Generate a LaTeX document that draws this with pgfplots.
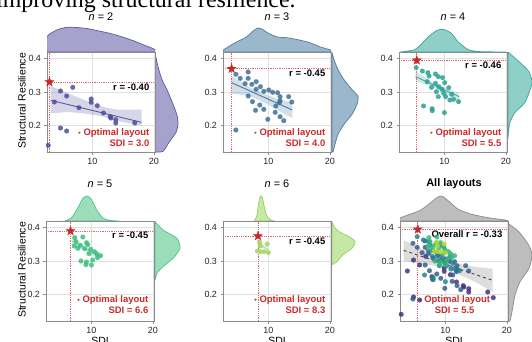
\documentclass[border=0pt]{standalone}
\usepackage{pgfplots}
\pgfplotsset{compat=1.18}
\usepackage{pgfplotstable}
\usepackage{fontspec}
\setmainfont{Liberation Sans}
\newfontfamily\serif{Liberation Serif}

\definecolor{d2}{HTML}{4F4E96}\definecolor{f2}{HTML}{8C88C0}\definecolor{e2}{HTML}{5C589C}
\definecolor{d3}{HTML}{3D7098}\definecolor{f3}{HTML}{7FA3BE}\definecolor{e3}{HTML}{4E7A9C}
\definecolor{d4}{HTML}{2CA093}\definecolor{f4}{HTML}{6EC1B8}\definecolor{e4}{HTML}{3FA59A}
\definecolor{d5}{HTML}{3DBE7F}\definecolor{f5}{HTML}{7FD5A5}\definecolor{e5}{HTML}{4CC389}
\definecolor{d6}{HTML}{9ED66A}\definecolor{f6}{HTML}{B4E38A}\definecolor{e6}{HTML}{9ACD5E}
\definecolor{fg}{HTML}{ABABAB}\definecolor{eg}{HTML}{8A8A8A}
\definecolor{v2}{HTML}{46317E}\definecolor{v3}{HTML}{35608D}\definecolor{v4}{HTML}{26828E}
\definecolor{v5}{HTML}{35B779}\definecolor{v6}{HTML}{B5DB34}
\definecolor{optred}{HTML}{CC2A2A}\definecolor{starred}{HTML}{C62828}\definecolor{dotred}{HTML}{E06666}

\pgfdeclareplotmark{fstar}{%
  \pgfpathmoveto{\pgfpointpolar{90}{\pgfplotmarksize}}%
  \pgfpathlineto{\pgfpointpolar{126}{0.4\pgfplotmarksize}}%
  \pgfpathlineto{\pgfpointpolar{162}{\pgfplotmarksize}}%
  \pgfpathlineto{\pgfpointpolar{198}{0.4\pgfplotmarksize}}%
  \pgfpathlineto{\pgfpointpolar{234}{\pgfplotmarksize}}%
  \pgfpathlineto{\pgfpointpolar{270}{0.4\pgfplotmarksize}}%
  \pgfpathlineto{\pgfpointpolar{306}{\pgfplotmarksize}}%
  \pgfpathlineto{\pgfpointpolar{342}{0.4\pgfplotmarksize}}%
  \pgfpathlineto{\pgfpointpolar{18}{\pgfplotmarksize}}%
  \pgfpathlineto{\pgfpointpolar{54}{0.4\pgfplotmarksize}}%
  \pgfpathclose
  \pgfusepathqfillstroke
}

\pgfplotstableread{
x y
4.8 0.303
6.8 0.314
5.8 0.288
3.8 0.270
7.8 0.253
9.8 0.279
9.8 0.269
10.8 0.259
11.8 0.237
12.9 0.226
13.0 0.222
13.8 0.217
13.8 0.207
16.9 0.207
4.8 0.192
5.8 0.183
2.8 0.140
}\dtwo

\pgfplotstableread{
x y
4.7 0.353
5.4 0.341
6.7 0.360
6.7 0.341
6.2 0.325
7.3 0.323
8.0 0.331
8.0 0.308
8.7 0.316
9.25 0.302
10.05 0.306
10.7 0.299
11.5 0.298
11.9 0.286
11.9 0.274
11.8 0.268
13.3 0.286
13.8 0.270
6.7 0.288
7.4 0.271
8.6 0.261
9.25 0.248
7.9 0.245
11.2 0.258
11.1 0.239
11.9 0.226
9.9 0.218
12.5 0.214
4.7 0.186
}\dthree

\pgfplotstableread{
x y
5.4 0.373
6.4 0.363
7.3 0.358
7.5 0.348
8.55 0.354
9.0 0.346
9.7 0.343
10.05 0.328
7.2 0.331
8.55 0.326
7.9 0.314
9.1 0.316
8.7 0.301
9.6 0.308
10.7 0.313
9.9 0.296
9.0 0.286
10.2 0.286
11.2 0.293
10.9 0.276
12.3 0.271
11.5 0.278
6.6 0.258
8.0 0.250
8.0 0.244
10.0 0.238
}\dfour

\pgfplotstableread{
x y
8.6 0.372
7.5 0.358
9.2 0.355
8.2 0.347
9.4 0.349
7.8 0.338
8.9 0.337
9.9 0.335
10.5 0.328
9.6 0.322
10.9 0.321
11.5 0.316
11.0 0.310
8.3 0.300
9.2 0.297
10.2 0.303
10.0 0.288
9.1 0.289
7.3 0.370
7.2 0.345
}\dfive

\pgfplotstableread{
x y
8.6 0.356
8.7 0.345
9.8 0.351
8.2 0.330
8.7 0.328
9.3 0.328
10.0 0.325
}\dsix

\pgfplotsset{
  mainax/.style={
    scale only axis, width=108bp, height=100bp, anchor=north west,
    xmin=2.6, xmax=20.2, ymin=0.12, ymax=0.42, clip=false,
    xtick={10,20}, xticklabels={10,20},
    ytick={0.2,0.3,0.4}, yticklabels={0.2,0.3,0.4},
    grid=major, major grid style={draw=black!12, line width=0.5pt},
    axis line style={draw=black!45, line width=0.6pt},
    tick style={draw=black!45, line width=0.5pt}, tick align=outside,
    major tick length=2.5bp, xtick pos=bottom, ytick pos=left,
    ticklabel style={font=\fontsize{9}{10}\selectfont, text=black!85},
  },
  topax/.style={scale only axis, width=108bp, height=26bp, anchor=south west,
    xmin=2.6, xmax=20.2, ymin=0, ymax=26, hide axis},
  rightax/.style={scale only axis, width=28bp, height=100bp, anchor=north west,
    xmin=0, xmax=28, ymin=0.12, ymax=0.42, hide axis},
  pts/.style={only marks, mark=*, mark size=2.4bp, color=#1, mark options={solid, fill=#1, draw=#1, line width=0.1pt, fill opacity=0.85, draw opacity=0.85}},
  dens/.style n args={2}{fill=#1, fill opacity=0.78, draw=#2, line width=0.7pt, smooth, tension=0.4},
  optline/.style={dotred, densely dotted, line width=0.8pt},
  startmark/.style={only marks, mark=fstar, mark size=4.8bp, color=starred, mark options={solid, fill=starred, draw=starred, line width=0.3pt}},
}
\tikzset{
  rtext/.style={anchor=north east, inner sep=0pt, font=\bfseries\fontsize{9.5}{10}\selectfont},
  otext/.style={anchor=south east, inner sep=0pt, align=right, text=optred, font=\bfseries\fontsize{9.5}{11}\selectfont},
}
\newcommand{\bul}{{\fontsize{7}{7}\selectfont\textbullet}}

\begin{document}
\begin{tikzpicture}
\useasboundingbox (0,0) rectangle (532bp,-342bp);

% cut-off heading
\node[anchor=base west, inner sep=0pt, font=\serif\fontsize{24}{28}\selectfont] at (-4bp,-7.5bp) {improving structural resilience.};

% titles
\node[font=\fontsize{11}{13}\selectfont] at (101bp,-16.5bp) {{\itshape n} = 2};
\node[font=\fontsize{11}{13}\selectfont] at (277bp,-16.5bp) {{\itshape n} = 3};
\node[font=\fontsize{11}{13}\selectfont] at (453bp,-16.5bp) {{\itshape n} = 4};
\node[font=\fontsize{11}{13}\selectfont] at (100bp,-184bp) {{\itshape n} = 5};
\node[font=\fontsize{11}{13}\selectfont] at (277bp,-184bp) {{\itshape n} = 6};
\node[font=\bfseries\fontsize{11}{13}\selectfont] at (454bp,-184bp) {All layouts};
\node[rotate=90, font=\fontsize{10.5}{12}\selectfont] at (22bp,-101bp) {Structural Resilience};
\node[rotate=90, font=\fontsize{10.5}{12}\selectfont] at (22bp,-270bp) {Structural Resilience};
\node[anchor=north, inner sep=0pt, font=\fontsize{10.5}{12}\selectfont] at (100bp,-336.5bp) {SDI};
\node[anchor=north, inner sep=0pt, font=\fontsize{10.5}{12}\selectfont] at (277bp,-336.5bp) {SDI};
\node[anchor=north, inner sep=0pt, font=\fontsize{10.5}{12}\selectfont] at (454bp,-336.5bp) {SDI};

% ================= Panel 1 (n=2)
\begin{axis}[topax, at={(47bp,-52bp)}]
\addplot[dens={f2}{e2}] coordinates {(2.6,0) (2.6,15.3) (4.2,22) (5.8,24.7) (7.4,24.5) (9.1,23.5) (10.7,21.5) (12.8,18.7) (14.9,15) (16.8,11) (18.4,7) (20.2,2.5) (20.2,0)} -- cycle;
\end{axis}
\begin{axis}[rightax, at={(155bp,-52bp)}]
\addplot[dens={f2}{e2}] coordinates {(0,0.418) (3,0.376) (7,0.337) (12,0.307) (16,0.278) (20,0.248) (22.5,0.224) (23,0.203) (21,0.179) (14,0.149) (8,0.122) (0,0.12)} -- cycle;
\end{axis}
\begin{axis}[mainax, at={(47bp,-52bp)}]
\addplot[fill=f2, fill opacity=0.35, draw=none] coordinates {(3.2,0.318) (6,0.296) (9,0.274) (12,0.254) (14,0.247) (18,0.247) (18,0.2) (14,0.213) (12,0.225) (9,0.235) (6,0.24) (3.2,0.236)} -- cycle;
\addplot[e2, line width=0.9pt] coordinates {(3.2,0.275) (18,0.209)};
\addplot[pts=d2] table {\dtwo};
\addplot[optline] coordinates {(2.6,0.33) (20.2,0.33)};
\addplot[optline] coordinates {(3.0,0.12) (3.0,0.42)};
\addplot[startmark] coordinates {(3.0,0.33)};
\node[rtext] at (axis cs:19.3,0.326) {r = -0.40};
\node[otext] at (axis cs:19.3,0.137) {\bul\ Optimal layout\\SDI = 3.0};
\end{axis}

% ================= Panel 2 (n=3)
\begin{axis}[topax, at={(223bp,-52bp)}]
\addplot[dens={f3}{e3}] coordinates {(2.6,0) (2.65,2) (4.5,9) (6.4,15) (7.5,21) (8.3,24) (9.1,22.5) (9.9,19) (11.5,15) (13.4,14) (16.4,10) (18.5,5) (20.1,2) (20.2,0)} -- cycle;
\end{axis}
\begin{axis}[rightax, at={(332bp,-52bp)}]
\addplot[dens={f3}{e3}] coordinates {(0,0.418) (2,0.397) (6,0.367) (12,0.337) (20,0.307) (26,0.287) (25,0.263) (20,0.233) (12,0.203) (6,0.173) (3,0.143) (1,0.12) (0,0.12)} -- cycle;
\end{axis}
\begin{axis}[mainax, at={(223bp,-52bp)}]
\addplot[fill=f3, fill opacity=0.35, draw=none] coordinates {(4,0.348) (7,0.314) (10,0.29) (12,0.277) (13.9,0.268) (13.9,0.222) (12,0.24) (10,0.262) (7,0.288) (4,0.295)} -- cycle;
\addplot[e3, line width=0.9pt] coordinates {(4.0,0.328) (13.9,0.246)};
\addplot[pts=d3] table {\dthree};
\addplot[optline] coordinates {(2.6,0.37) (20.2,0.37)};
\addplot[optline] coordinates {(4.0,0.12) (4.0,0.42)};
\addplot[startmark] coordinates {(4.0,0.37)};
\node[rtext] at (axis cs:19.3,0.366) {r = -0.45};
\node[otext] at (axis cs:19.3,0.137) {\bul\ Optimal layout\\SDI = 4.0};
\end{axis}

% ================= Panel 3 (n=4)
\begin{axis}[topax, at={(399bp,-52bp)}]
\addplot[dens={f4}{e4}] coordinates {(2.8,0) (5.0,2) (5.8,5.3) (7.4,15.3) (8.7,21.3) (9.8,22.7) (11.15,18.7) (12.2,10.3) (13.8,2.7) (15.5,0.5) (20,0)} -- cycle;
\end{axis}
\begin{axis}[rightax, at={(508bp,-52bp)}]
\addplot[dens={f4}{e4}] coordinates {(0,0.42) (10.7,0.392) (20.7,0.362) (24,0.327) (17,0.269) (7,0.239) (2,0.209) (0.5,0.18) (0,0.16)} -- cycle;
\end{axis}
\begin{axis}[mainax, at={(399bp,-52bp)}]
\addplot[fill=f4, fill opacity=0.35, draw=none] coordinates {(5.3,0.362) (8,0.33) (10,0.312) (12.4,0.298) (12.4,0.272) (10,0.298) (8,0.316) (5.3,0.332)} -- cycle;
\addplot[e4, line width=0.9pt] coordinates {(5.3,0.346) (12.4,0.286)};
\addplot[pts=d4] table {\dfour};
\addplot[optline] coordinates {(2.6,0.395) (20.2,0.395)};
\addplot[optline] coordinates {(5.5,0.12) (5.5,0.42)};
\addplot[startmark] coordinates {(5.5,0.395)};
\node[rtext] at (axis cs:19.3,0.391) {r = -0.46};
\node[otext] at (axis cs:19.3,0.137) {\bul\ Optimal layout\\SDI = 5.5};
\end{axis}

% ================= Panel 4 (n=5)
\begin{axis}[topax, at={(46bp,-221bp)}]
\addplot[dens={f5}{e5}] coordinates {(5.66,0) (6.74,3.3) (7.8,13.3) (8.6,22.5) (9.3,25) (10.0,21.7) (10.8,11.7) (11.8,3.3) (12.9,0.7) (14.5,0)} -- cycle;
\end{axis}
\begin{axis}[rightax, at={(155bp,-221bp)}]
\addplot[dens={f5}{e5}] coordinates {(0,0.418) (8,0.393) (22,0.368) (25,0.338) (18,0.308) (8,0.283) (2,0.263) (0,0.241)} -- cycle;
\end{axis}
\begin{axis}[mainax, at={(46bp,-221bp)}]
\addplot[fill=f5, fill opacity=0.35, draw=none] coordinates {(6.8,0.375) (9,0.343) (11.2,0.326) (11.2,0.302) (9,0.33) (6.8,0.348)} -- cycle;
\addplot[e5, line width=0.9pt, opacity=0.6] coordinates {(6.8,0.36) (11.2,0.315)};
\addplot[pts=d5] table {\dfive};
\addplot[optline] coordinates {(2.6,0.39) (20.2,0.39)};
\addplot[optline] coordinates {(6.6,0.12) (6.6,0.42)};
\addplot[startmark] coordinates {(6.6,0.39)};
\node[rtext] at (axis cs:19.3,0.387) {r = -0.45};
\node[otext] at (axis cs:19.3,0.142) {\bul\ Optimal layout\\SDI = 6.6};
\end{axis}

% ================= Panel 5 (n=6)
\begin{axis}[topax, at={(223bp,-221bp)}]
\addplot[dens={f6}{e6}] coordinates {(7.7,0) (8.1,5) (8.4,17.5) (8.7,25) (9.0,23.7) (9.3,15) (9.6,7.5) (10.0,3) (10.5,0.8) (11,0)} -- cycle;
\end{axis}
\begin{axis}[rightax, at={(332bp,-221bp)}]
\addplot[dens={f6}{e6}] coordinates {(0,0.418) (2,0.403) (7,0.388) (17,0.373) (23,0.358) (20,0.338) (11,0.319) (5,0.298) (0,0.289)} -- cycle;
\end{axis}
\begin{axis}[mainax, at={(223bp,-221bp)}]
\addplot[fill=f6, fill opacity=0.35, draw=none] coordinates {(8.2,0.365) (9.2,0.348) (10,0.343) (10,0.322) (9.2,0.338) (8.2,0.345)} -- cycle;
\addplot[e6, line width=0.9pt, opacity=0.6] coordinates {(8.2,0.355) (10,0.333)};
\addplot[pts=d6] table {\dsix};
\addplot[optline] coordinates {(2.6,0.375) (20.2,0.375)};
\addplot[optline] coordinates {(8.3,0.12) (8.3,0.42)};
\addplot[startmark] coordinates {(8.3,0.375)};
\node[rtext] at (axis cs:19.3,0.369) {r = -0.45};
\node[otext] at (axis cs:19.3,0.142) {\bul\ Optimal layout\\SDI = 8.3};
\end{axis}

% ================= Panel 6 (All)
\begin{axis}[topax, at={(400bp,-221bp)}]
\addplot[dens={fg}{eg}] coordinates {(2.6,0) (2.7,3.3) (5.66,10) (7.28,16.7) (8.6,23.3) (9.4,25) (10.5,20) (12.1,11.7) (14.3,6.7) (17.0,3.3) (19.9,0.8) (20.2,0)} -- cycle;
\end{axis}
\begin{axis}[rightax, at={(508bp,-221bp)}]
\addplot[dens={fg}{eg}] coordinates {(0,0.413) (10.7,0.388) (20.7,0.348) (24,0.318) (21,0.278) (12,0.238) (7,0.198) (4,0.148) (2,0.12) (0,0.12)} -- cycle;
\end{axis}
\begin{axis}[mainax, at={(400bp,-221bp)}]
\addplot[fill=fg, fill opacity=0.4, draw=none] coordinates {(3.2,0.362) (6,0.338) (9,0.308) (10,0.3) (12,0.292) (15,0.282) (17.7,0.277) (17.7,0.207) (15,0.236) (12,0.262) (10,0.28) (9,0.284) (6,0.292) (3.2,0.3)} -- cycle;
\addplot[pts=v2] table {\dtwo};
\addplot[pts=v2] coordinates {(17.8,0.19)};
\addplot[pts=v3] table {\dthree};
\addplot[pts=v4] table {\dfour};
\addplot[pts=v5] table {\dfive};
\addplot[pts=v6] table {\dsix};
\addplot[black!70, dashed, line width=1pt] coordinates {(3.2,0.332) (17.7,0.242)};
\addplot[optline] coordinates {(2.6,0.395) (20.2,0.395)};
\addplot[optline] coordinates {(5.5,0.12) (5.5,0.42)};
\addplot[startmark] coordinates {(5.5,0.395)};
\node[rtext] at (axis cs:19.3,0.391) {Overall r = -0.33};
\node[anchor=south, inner sep=0pt, align=center, text=optred, font=\bfseries\fontsize{9.5}{11}\selectfont] at (axis cs:11.5,0.143) {\bul\ Optimal layout\\SDI = 5.5};
\end{axis}
\end{tikzpicture}
\end{document}
